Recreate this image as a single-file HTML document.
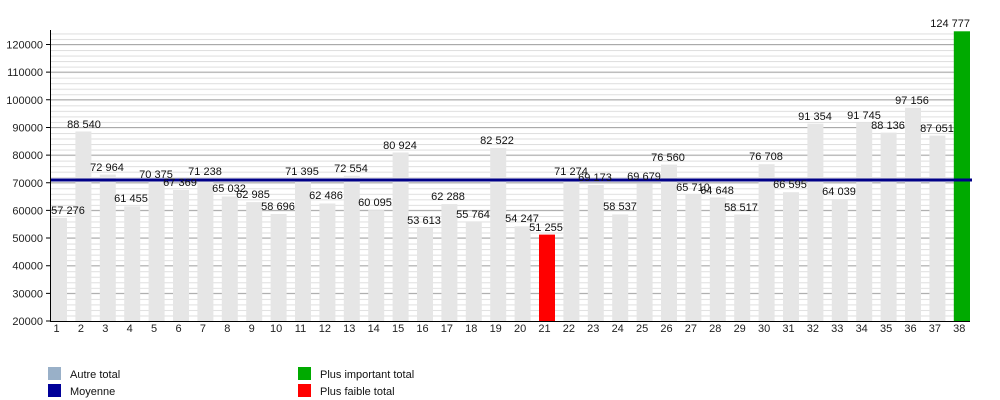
<!DOCTYPE html>
<html><head><meta charset="utf-8"><style>
html,body{margin:0;padding:0;background:#fff;}
svg{display:block;font-family:"Liberation Sans",sans-serif;}
</style></head><body>
<svg width="1000" height="400" viewBox="0 0 1000 400" xmlns="http://www.w3.org/2000/svg">
<defs>
<pattern id="minor" patternUnits="userSpaceOnUse" x="0" y="321" width="10" height="5.53">
<line x1="0" y1="0.5" x2="10" y2="0.5" stroke="#dedede" stroke-width="1"/>
</pattern>
</defs>
<rect x="50" y="31" width="920" height="290" fill="url(#minor)"/>
<g stroke="#aaa" stroke-width="1">
<line x1="50" x2="970" y1="293.35" y2="293.35"/><line x1="50" x2="970" y1="265.7" y2="265.7"/>
<line x1="50" x2="970" y1="238.05" y2="238.05"/><line x1="50" x2="970" y1="210.4" y2="210.4"/>
<line x1="50" x2="970" y1="182.75" y2="182.75"/><line x1="50" x2="970" y1="155.1" y2="155.1"/>
<line x1="50" x2="970" y1="127.45" y2="127.45"/><line x1="50" x2="970" y1="99.8" y2="99.8"/>
<line x1="50" x2="970" y1="72.15" y2="72.15"/><line x1="50" x2="970" y1="44.5" y2="44.5"/>
</g>
<g fill="#e6e6e6">
<rect x="51" y="217.9" width="16" height="103.1"/>
<rect x="75.4" y="131.5" width="16" height="189.5"/>
<rect x="99.8" y="174.6" width="16" height="146.4"/>
<rect x="124.2" y="206.4" width="16" height="114.6"/>
<rect x="148.6" y="181.7" width="16" height="139.3"/>
<rect x="173" y="190" width="16" height="131"/>
<rect x="197.4" y="179.3" width="16" height="141.7"/>
<rect x="221.8" y="196.5" width="16" height="124.5"/>
<rect x="246.2" y="202.1" width="16" height="118.9"/>
<rect x="270.6" y="214" width="16" height="107"/>
<rect x="295" y="178.9" width="16" height="142.1"/>
<rect x="319.4" y="203.5" width="16" height="117.5"/>
<rect x="343.8" y="175.7" width="16" height="145.3"/>
<rect x="368.2" y="210.1" width="16" height="110.9"/>
<rect x="392.6" y="152.5" width="16" height="168.5"/>
<rect x="417" y="228.1" width="16" height="92.9"/>
<rect x="441.4" y="204.1" width="16" height="116.9"/>
<rect x="465.8" y="222.1" width="16" height="98.9"/>
<rect x="490.2" y="148.1" width="16" height="172.9"/>
<rect x="514.6" y="226.3" width="16" height="94.7"/>
<rect x="563.4" y="179.2" width="16" height="141.8"/>
<rect x="587.8" y="185" width="16" height="136"/>
<rect x="612.2" y="214.4" width="16" height="106.6"/>
<rect x="636.6" y="183.6" width="16" height="137.4"/>
<rect x="661" y="164.6" width="16" height="156.4"/>
<rect x="685.4" y="194.6" width="16" height="126.4"/>
<rect x="709.8" y="197.5" width="16" height="123.5"/>
<rect x="734.2" y="214.5" width="16" height="106.5"/>
<rect x="758.6" y="164.2" width="16" height="156.8"/>
<rect x="783" y="192.2" width="16" height="128.8"/>
<rect x="807.4" y="123.7" width="16" height="197.3"/>
<rect x="831.8" y="199.2" width="16" height="121.8"/>
<rect x="856.2" y="122.6" width="16" height="198.4"/>
<rect x="880.6" y="132.6" width="16" height="188.4"/>
<rect x="905" y="107.7" width="16" height="213.3"/>
<rect x="929.4" y="135.6" width="16" height="185.4"/>
</g>
<rect x="539" y="234.6" width="16" height="86.4" fill="#ff0000"/>
<rect x="953.8" y="31.3" width="16.2" height="289.7" fill="#00aa00"/>
<line x1="50" x2="972" y1="180" y2="180" stroke="#000088" stroke-width="3"/>
<g stroke="#000" stroke-width="1">
<line x1="50.5" y1="30" x2="50.5" y2="321"/>
<line x1="50" y1="321.5" x2="970" y2="321.5"/>
</g>
<g stroke="#000" stroke-width="1">
<path d="M46 321H50M46 293.35H50M46 265.7H50M46 238.05H50M46 210.4H50M46 182.75H50M46 155.1H50M46 127.45H50M46 99.8H50M46 72.15H50M46 44.5H50"/>
</g>
<g font-size="11" fill="#222" text-anchor="end">
<text x="43" y="325">20000</text><text x="43" y="297.35">30000</text><text x="43" y="269.7">40000</text>
<text x="43" y="242.05">50000</text><text x="43" y="214.4">60000</text><text x="43" y="186.75">70000</text>
<text x="43" y="159.1">80000</text><text x="43" y="131.45">90000</text><text x="43" y="103.8">100000</text>
<text x="43" y="76.15">110000</text><text x="43" y="48.5">120000</text>
</g>
<g font-size="11" fill="#222" text-anchor="middle">
<text x="56.5" y="332">1</text><text x="80.9" y="332">2</text><text x="105.3" y="332">3</text><text x="129.7" y="332">4</text>
<text x="154.1" y="332">5</text><text x="178.5" y="332">6</text><text x="202.9" y="332">7</text><text x="227.3" y="332">8</text>
<text x="251.7" y="332">9</text><text x="276.1" y="332">10</text><text x="300.5" y="332">11</text><text x="324.9" y="332">12</text>
<text x="349.3" y="332">13</text><text x="373.7" y="332">14</text><text x="398.1" y="332">15</text><text x="422.5" y="332">16</text>
<text x="446.9" y="332">17</text><text x="471.3" y="332">18</text><text x="495.7" y="332">19</text><text x="520.1" y="332">20</text>
<text x="544.5" y="332">21</text><text x="568.9" y="332">22</text><text x="593.3" y="332">23</text><text x="617.7" y="332">24</text>
<text x="642.1" y="332">25</text><text x="666.5" y="332">26</text><text x="690.9" y="332">27</text><text x="715.3" y="332">28</text>
<text x="739.7" y="332">29</text><text x="764.1" y="332">30</text><text x="788.5" y="332">31</text><text x="812.9" y="332">32</text>
<text x="837.3" y="332">33</text><text x="861.7" y="332">34</text><text x="886.1" y="332">35</text><text x="910.5" y="332">36</text>
<text x="934.9" y="332">37</text><text x="959.3" y="332">38</text>
</g>
<g font-size="11" fill="#111" text-anchor="middle">
<text x="68" y="214">57 276</text>
<text x="84" y="128">88 540</text>
<text x="107" y="171">72 964</text>
<text x="131" y="202">61 455</text>
<text x="156" y="178">70 375</text>
<text x="180" y="186">67 369</text>
<text x="205" y="175">71 238</text>
<text x="229" y="192">65 032</text>
<text x="253" y="198">62 985</text>
<text x="278" y="210">58 696</text>
<text x="302" y="175">71 395</text>
<text x="326" y="199">62 486</text>
<text x="351" y="172">72 554</text>
<text x="375" y="206">60 095</text>
<text x="400" y="149">80 924</text>
<text x="424" y="224">53 613</text>
<text x="448" y="200">62 288</text>
<text x="473" y="218">55 764</text>
<text x="497" y="144">82 522</text>
<text x="522" y="222">54 247</text>
<text x="546" y="231">51 255</text>
<text x="571" y="175">71 274</text>
<text x="595" y="181">69 173</text>
<text x="620" y="210">58 537</text>
<text x="644" y="180">69 679</text>
<text x="668" y="161">76 560</text>
<text x="693" y="191">65 710</text>
<text x="717" y="194">64 648</text>
<text x="741" y="211">58 517</text>
<text x="766" y="160">76 708</text>
<text x="790" y="188">66 595</text>
<text x="815" y="120">91 354</text>
<text x="839" y="195">64 039</text>
<text x="864" y="119">91 745</text>
<text x="888" y="129">88 136</text>
<text x="912" y="104">97 156</text>
<text x="937" y="132">87 051</text>
<text x="970" y="27" text-anchor="end">124 777</text>
</g>
<rect x="48" y="367" width="13" height="13" fill="#99b0c8"/>
<rect x="48" y="384" width="13" height="13" fill="#000099"/>
<rect x="298" y="367" width="13" height="13" fill="#00aa00"/>
<rect x="298" y="384" width="13" height="13" fill="#ff0000"/>
<g font-size="11" fill="#111">
<text x="70" y="378">Autre total</text>
<text x="70" y="395">Moyenne</text>
<text x="320" y="378">Plus important total</text>
<text x="320" y="395">Plus faible total</text>
</g>
</svg>
</body></html>
